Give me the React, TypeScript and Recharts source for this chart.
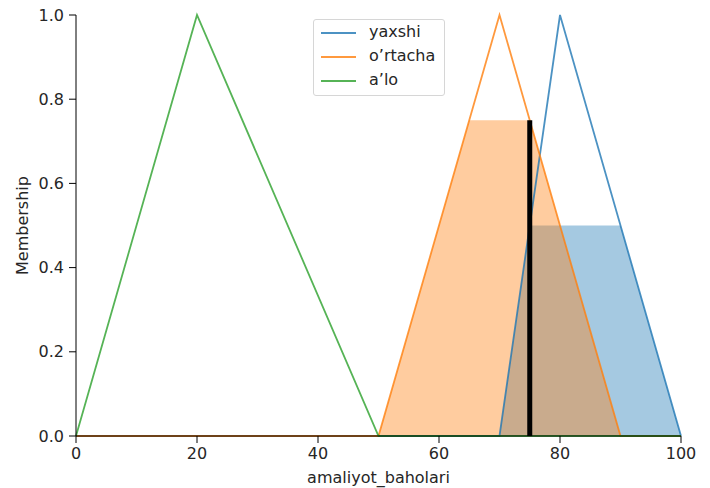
import React from 'react';
import { ComposedChart, Line, Area, XAxis, YAxis, ReferenceLine, Legend } from 'recharts';

// universe breakpoints of amaliyot_baholari
const xPoints = [0, 20, 50, 65, 70, 75, 80, 90, 100];
// membership functions
const yaxshi = [0, 0, 0, 0, 0, 0.5, 1, 0.5, 0];
const ortacha = [0, 0, 0, 0.75, 1, 0.75, 0.5, 0, 0];
const alo = [0, 1, 0, 0, 0, 0, 0, 0, 0];
// activated (clipped) memberships
const yaxshiActive = [0, 0, 0, 0, 0, 0.5, 0.5, 0.5, 0];
const ortachaActive = [0, 0, 0, 0.75, 0.75, 0.75, 0.5, 0, 0];
// defuzzified result
const crispValue = 75;
const crispMembership = 0.75;

const xTicks = [0, 20, 40, 60, 80, 100];
const yTicks = [0, 0.2, 0.4, 0.6, 0.8, 1.0];

const legendItems = [
  { name: 'yaxshi', color: '#1f77b4' },
  { name: 'o\u2019rtacha', color: '#ff7f0e' },
  { name: 'a\u2019lo', color: '#2ca02c' },
];

const data = xPoints.map((x, i) => ({
  x,
  yaxshi: yaxshi[i],
  ortacha: ortacha[i],
  alo: alo[i],
  yaxshiActive: yaxshiActive[i],
  ortachaActive: ortachaActive[i],
}));

const FONT = '"DejaVu Sans", sans-serif';
const TXT = '#262626';
const LINE_W = 1.8;
const LINE_OP = 0.8;

const LegendBox = () => (
  <div
    style={{
      width: 130,
      height: 75,
      border: '1px solid #d6d6d6',
      borderRadius: 3,
      background: 'rgba(255,255,255,0.8)',
      position: 'relative',
      fontFamily: FONT,
      fontSize: 16,
      color: TXT,
    }}
  >
    {legendItems.map((it, i) => (
      <div key={it.name} style={{ position: 'absolute', left: 0, top: 13 + i * 24 - 12, height: 24, width: 130 }}>
        <div style={{ position: 'absolute', left: 7, top: 11, width: 35, height: 2, background: it.color, opacity: LINE_OP }} />
        <div style={{ position: 'absolute', left: 55, top: 0, lineHeight: '22px' }}>{it.name}</div>
      </div>
    ))}
  </div>
);

const XLabel = (props: any) => {
  const vb = props.viewBox || {};
  const cx = (vb.x ?? 76) + (vb.width ?? 605) / 2;
  return (
    <text x={cx} y={483} textAnchor="middle" fontFamily={FONT} fontSize={16} fill={TXT}>
      amaliyot_baholari
    </text>
  );
};

const YLabel = (props: any) => {
  const vb = props.viewBox || {};
  const cy = (vb.y ?? 15) + (vb.height ?? 421) / 2;
  const cx = 22;
  return (
    <text
      x={cx}
      y={cy}
      transform={`rotate(-90, ${cx}, ${cy})`}
      textAnchor="middle"
      dominantBaseline="central"
      fontFamily={FONT}
      fontSize={16}
      fill={TXT}
    >
      Membership
    </text>
  );
};

export default function App() {
  return (
    <div style={{ margin: '-8px 0 0 -8px', width: 710, height: 488 }}>
      <ComposedChart
        width={710}
        height={488}
        data={data}
        margin={{ top: 15, right: 29, bottom: 0, left: 0 }}
      >
        <XAxis
          dataKey="x"
          type="number"
          domain={[0, 100]}
          ticks={xTicks}
          interval={0}
          height={52}
          tickSize={7}
          tickMargin={5}
          stroke="#000"
          tick={{ fill: TXT, fontFamily: FONT, fontSize: 16 }}
          label={<XLabel />}
        />
        <YAxis
          type="number"
          domain={[0, 1]}
          ticks={yTicks}
          interval={0}
          width={76}
          tickSize={7}
          tickMargin={5}
          stroke="#000"
          tickFormatter={(v: number) => v.toFixed(1)}
          tick={{ fill: TXT, fontFamily: FONT, fontSize: 16 }}
          label={<YLabel />}
        />
        <Area
          type="linear"
          dataKey="yaxshiActive"
          stroke="none"
          fill="#1f77b4"
          fillOpacity={0.4}
          isAnimationActive={false}
          dot={false}
          activeDot={false}
          legendType="none"
        />
        <Area
          type="linear"
          dataKey="ortachaActive"
          stroke="none"
          fill="#ff7f0e"
          fillOpacity={0.4}
          isAnimationActive={false}
          dot={false}
          activeDot={false}
          legendType="none"
        />
        <Line type="linear" dataKey="yaxshi" stroke="#1f77b4" strokeOpacity={LINE_OP} strokeWidth={LINE_W} dot={false} activeDot={false} isAnimationActive={false} />
        <Line type="linear" dataKey="ortacha" stroke="#ff7f0e" strokeOpacity={LINE_OP} strokeWidth={LINE_W} dot={false} activeDot={false} isAnimationActive={false} />
        <Line type="linear" dataKey="alo" stroke="#2ca02c" strokeOpacity={LINE_OP} strokeWidth={LINE_W} dot={false} activeDot={false} isAnimationActive={false} />
        <ReferenceLine
          segment={[
            { x: crispValue, y: 0 },
            { x: crispValue, y: crispMembership },
          ]}
          stroke="#000"
          strokeWidth={5}
        />
        <Legend
          layout="vertical"
          align="center"
          verticalAlign="middle"
          content={() => <LegendBox />}
          wrapperStyle={{ left: 313, top: 19, width: 132, height: 77 }}
        />
      </ComposedChart>
    </div>
  );
}
